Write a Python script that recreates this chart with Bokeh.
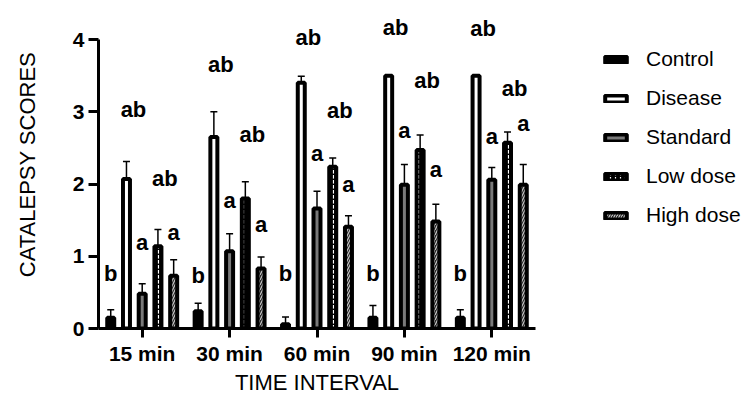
from bokeh.plotting import figure
from bokeh.models import (ColumnDataSource, FactorRange, Range1d, LabelSet,
                          Legend, LegendItem, FixedTicker)
from bokeh.core.properties import value
from bokeh.transform import dodge
from bokeh.embed import file_html
from bokeh.resources import INLINE

# ---------------- data ----------------
times = ["15 min", "30 min", "60 min", "90 min", "120 min"]
groups = ["Control", "Disease", "Standard", "Low dose", "High dose"]

control = [0.15, 0.24, 0.06, 0.15, 0.15]
control_sem = [0.11, 0.11, 0.10, 0.17, 0.11]
disease = [2.07, 2.65, 3.40, 3.50, 3.50]
disease_sem = [0.24, 0.35, 0.09, 0.0, 0.0]
standard = [0.48, 1.07, 1.66, 1.99, 2.06]
standard_sem = [0.14, 0.24, 0.24, 0.28, 0.17]
low_dose = [1.14, 1.80, 2.24, 2.47, 2.57]
low_dose_sem = [0.23, 0.23, 0.12, 0.21, 0.15]
high_dose = [0.73, 0.83, 1.41, 1.48, 1.99]
high_dose_sem = [0.22, 0.16, 0.15, 0.24, 0.28]

# significance letters and the height at which each is written
control_sig = ["b", "b", "b", "b", "b"]
control_sig_y = [0.76, 0.73, 0.76, 0.76, 0.76]
disease_sig = ["ab", "ab", "ab", "ab", "ab"]
disease_sig_y = [3.03, 3.66, 4.03, 4.17, 4.15]
standard_sig = ["a", "a", "a", "a", "a"]
standard_sig_y = [1.19, 1.77, 2.42, 2.74, 2.66]
low_dose_sig = ["ab", "ab", "ab", "ab", "ab"]
low_dose_sig_y = [2.07, 2.69, 3.02, 3.43, 3.32]
high_dose_sig = ["a", "a", "a", "a", "a"]
high_dose_sig_y = [1.33, 1.44, 2.00, 2.20, 2.84]

y_ticks = [0, 1, 2, 3, 4]
y_axis_max = 4

series = [
    (control, control_sem, control_sig, control_sig_y),
    (disease, disease_sem, disease_sig, disease_sig_y),
    (standard, standard_sem, standard_sig, standard_sig_y),
    (low_dose, low_dose_sem, low_dose_sig, low_dose_sig_y),
    (high_dose, high_dose_sem, high_dose_sig, high_dose_sig_y),
]

# ---------------- styles ----------------
offsets = [-0.36, -0.18, 0.0, 0.18, 0.36]
fills = ["black", "white", "#7a7a7a", "black", "#2a2a2a"]
hatches = [None, None, None, "vertical_dash", "right_diagonal_line"]
hatch_colors = ["white", "white", "white", "white", "#c8c8c8"]
label_dx = [0, 7, 0, 7, 0]

FONT = "Liberation Sans"

p = figure(x_range=FactorRange(*times, range_padding=0),
           y_range=Range1d(0, 4.54),
           frame_width=437, frame_height=328,
           output_backend="svg", toolbar_location=None,
           min_border_left=98, min_border_right=205, min_border_top=0,
           min_border_bottom=66)
p.outline_line_color = None
p.grid.visible = False
p.background_fill_color = "white"

items = []
for i, (vals, sem, sig, sig_y) in enumerate(series):
    src = ColumnDataSource(dict(
        t=times, v=vals, top=[a + b for a, b in zip(vals, sem)],
        sig=sig, sy=sig_y))
    xd = dodge("t", offsets[i], range=p.x_range)
    # error bar (upper only)
    p.segment(x0=xd, x1=xd, y0="v", y1="top", source=src,
              line_color="black", line_width=1.5)
    p.scatter(x=xd, y="top", source=src, marker="dash", size=7,
              line_color="black", line_width=1.5)
    kw = dict(fill_color=fills[i], line_color="black", line_width=4)
    if hatches[i]:
        kw.update(hatch_pattern=hatches[i], hatch_color=hatch_colors[i],
                  hatch_scale=5, hatch_weight=1.2)
    r = p.vbar(x=xd, top="v", bottom=0, width=0.08, source=src, **kw)
    items.append(LegendItem(label=groups[i], renderers=[r]))
    lbl = LabelSet(x=dodge("t", offsets[i], range=p.x_range), y="sy", text="sig",
                   source=src, text_align="center", text_baseline="middle",
                   x_offset=label_dx[i], text_font=value(FONT),
                   text_font_size=value("22px"),
                   text_font_style=value("bold"), text_color=value("black"))
    p.add_layout(lbl)

# ---------------- axes ----------------
p.yaxis.ticker = FixedTicker(ticks=y_ticks)
p.yaxis.bounds = (0, y_axis_max)
for ax in (p.xaxis[0], p.yaxis[0]):
    ax.axis_line_width = 3
    ax.major_tick_line_width = 3
    ax.major_tick_out = 10
    ax.major_tick_in = 0
    ax.minor_tick_line_color = None
    ax.major_label_text_font = FONT
    ax.major_label_text_font_style = "bold"
    ax.major_label_text_font_size = "21px"
    ax.major_label_text_color = "black"
    ax.axis_label_text_font = FONT
    ax.axis_label_text_font_style = "normal"
    ax.axis_label_text_font_size = "22px"
    ax.axis_label_text_color = "black"
p.yaxis.major_label_standoff = 4
p.xaxis.major_label_standoff = 4
p.xaxis.major_tick_out = 9
p.yaxis.axis_label = "CATALEPSY SCORES"
p.xaxis.axis_label = "TIME INTERVAL"
p.yaxis.axis_label_standoff = 30
p.xaxis.axis_label_standoff = 2

legend = Legend(items=items, location=(67, 99), orientation="vertical",
                glyph_width=27, glyph_height=9, label_standoff=17,
                label_height=28, spacing=11, padding=0, margin=0,
                border_line_color=None, background_fill_alpha=0,
                label_text_font=FONT, label_text_font_size="21px",
                label_text_color="black")
p.add_layout(legend, "right")

open("out.html", "w").write(file_html(p, INLINE))
